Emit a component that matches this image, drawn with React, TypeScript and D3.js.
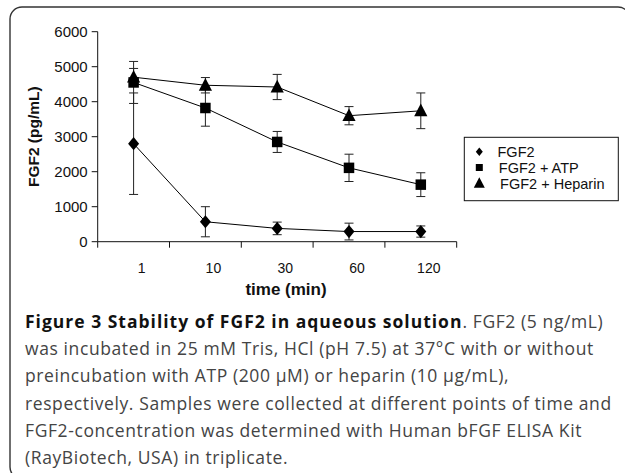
import React from "react";
import * as d3 from "d3";

const categories = ["1", "10", "30", "60", "120"];
const fgf2 = [2800, 570, 380, 290, 290];
const fgf2Err = [1450, 430, 180, 240, 160];
const fgf2Atp = [4550, 3820, 2850, 2110, 1630];
const fgf2AtpErr = [600, 520, 300, 390, 340];
const fgf2Hep = [4700, 4470, 4420, 3600, 3740];
const fgf2HepErr = [250, 220, 360, 260, 510];
const yTicks = [0, 1000, 2000, 3000, 4000, 5000, 6000];
const seriesNames = ["FGF2", "FGF2 + ATP", "FGF2 + Heparin"];

const captionBold = "Figure 3 Stability of FGF2 in aqueous solution";
const captionLines = [
  ". FGF2 (5 ng/mL)",
  "was incubated in 25 mM Tris, HCl (pH 7.5) at 37°C with or without",
  "preincubation with ATP (200 μM) or heparin (10 μg/mL),",
  "respectively. Samples were collected at different points of time and",
  "FGF2-concentration was determined with Human bFGF ELISA Kit",
  "(RayBiotech, USA) in triplicate.",
];

const W = 625;
const H = 473;
const left = 97.7;
const right = 456.7;
const top = 31.7;
const bottom = 241.7;

function Marker({ kind, x, y, s }: { kind: number; x: number; y: number; s: number }) {
  if (kind === 0) {
    const p = d3.path();
    p.moveTo(x, y - s * 0.6);
    p.lineTo(x + s * 0.5, y);
    p.lineTo(x, y + s * 0.6);
    p.lineTo(x - s * 0.5, y);
    p.closePath();
    return <path d={p.toString()} fill="#000" />;
  }
  if (kind === 1) {
    return <rect x={x - s / 2} y={y - s / 2} width={s} height={s} fill="#000" />;
  }
  const p = d3.path();
  p.moveTo(x, y - s * 0.6);
  p.lineTo(x + s * 0.55, y + s * 0.45);
  p.lineTo(x - s * 0.55, y + s * 0.45);
  p.closePath();
  return <path d={p.toString()} fill="#000" />;
}

export default function App() {
  const x = d3.scaleBand<string>().domain(categories).range([left, right]);
  const y = d3.scaleLinear().domain([0, 6000]).range([bottom, top]);
  const cx = (c: string) => (x(c) as number) + x.bandwidth() / 2;
  const series = [
    { v: fgf2, e: fgf2Err, size: 11 },
    { v: fgf2Atp, e: fgf2AtpErr, size: 10.5 },
    { v: fgf2Hep, e: fgf2HepErr, size: 12 },
  ];
  const line = d3
    .line<number>()
    .x((_, i) => cx(categories[i]))
    .y((d) => y(d));
  const chartFont = "'Liberation Sans', Arial, sans-serif";
  const capFont = "'Open Sans', sans-serif";
  const legendRows = d3.scaleLinear().domain([0, 2]).range([151.7, 183.3]);
  const capY = d3.scaleLinear().domain([0, 5]).range([328, 464]);
  const xBoundaries = [...categories.map((c) => x(c) as number), right];
  const capStyle = { letterSpacing: "0.6px" };

  return (
    <svg width={W} height={H} style={{ position: "absolute", left: 0, top: 0 }}>
      <rect x={0} y={0} width={W} height={H} fill="#fff" />
      <rect x={10} y={7} width={620} height={472} rx={12} ry={12} fill="none" stroke="#333" strokeWidth={1.4} />
      {/* axes */}
      <line x1={left} x2={left} y1={top} y2={bottom} stroke="#111" strokeWidth={1} />
      <line x1={left} x2={right} y1={bottom} y2={bottom} stroke="#111" strokeWidth={1} />
      {yTicks.map((t) => (
        <g key={t}>
          <line x1={left - 6} x2={left} y1={y(t)} y2={y(t)} stroke="#111" />
          <text x={left - 10} y={y(t)} dy="0.36em" textAnchor="end" fontFamily={chartFont} fontSize={15} fill="#111">
            {t}
          </text>
        </g>
      ))}
      {xBoundaries.map((b, i) => (
        <line key={i} x1={b} x2={b} y1={bottom} y2={bottom + 6} stroke="#111" />
      ))}
      {categories.map((c) => (
        <text key={c} x={cx(c) + 8} y={bottom + 26} dy="0.36em" textAnchor="middle" fontFamily={chartFont} fontSize={14} fill="#111">
          {c}
        </text>
      ))}
      <text x={286} y={288.5} dy="0.36em" textAnchor="middle" fontFamily={chartFont} fontSize={17} fontWeight="bold" fill="#111">
        time (min)
      </text>
      <text
        transform={`translate(33,${(top + bottom) / 2}) rotate(-90)`}
        dy="0.36em"
        textAnchor="middle"
        fontFamily={chartFont}
        fontSize={15.5}
        fontWeight="bold"
        fill="#111"
      >
        FGF2 (pg/mL)
      </text>
      {/* series */}
      {series.map((s, k) => (
        <g key={k}>
          <path d={line(s.v) as string} fill="none" stroke="#000" strokeWidth={1} />
          {s.v.map((v, i) => {
            const px = cx(categories[i]);
            const e = s.e[i];
            return (
              <g key={i}>
                <line x1={px} x2={px} y1={y(v - e)} y2={y(v + e)} stroke="#222" strokeWidth={1} />
                <line x1={px - 4.5} x2={px + 4.5} y1={y(v - e)} y2={y(v - e)} stroke="#222" strokeWidth={1} />
                <line x1={px - 4.5} x2={px + 4.5} y1={y(v + e)} y2={y(v + e)} stroke="#222" strokeWidth={1} />
              </g>
            );
          })}
        </g>
      ))}
      {series.map((s, k) => (
        <g key={"m" + k}>
          {s.v.map((v, i) => (
            <Marker key={i} kind={k} x={cx(categories[i])} y={y(v)} s={s.size} />
          ))}
        </g>
      ))}
      {/* legend */}
      <rect x={464.3} y={137.3} width={154} height={63.4} fill="#fff" stroke="#111" strokeWidth={1} />
      {seriesNames.map((n, k) => (
        <g key={n}>
          <Marker kind={k} x={479.3} y={legendRows(k)} s={[7, 7, 10][k]} />
          <text x={497.5 + k * 1.3} y={legendRows(k)} dy="0.36em" fontFamily={chartFont} fontSize={14.5} fill="#111">
            {n}
          </text>
        </g>
      ))}
      {/* caption */}
      <text x={25} y={capY(0)} fontFamily={capFont} fontSize={17.5} fill="#444" style={capStyle}>
        <tspan fontWeight="bold" fill="#111" style={{ letterSpacing: "1px" }}>{captionBold}</tspan>
        <tspan>{captionLines[0]}</tspan>
      </text>
      {captionLines.slice(1).map((l, i) => (
        <text key={i} x={25} y={capY(i + 1)} fontFamily={capFont} fontSize={17.5} fill="#444" style={capStyle}>
          {l}
        </text>
      ))}
    </svg>
  );
}
